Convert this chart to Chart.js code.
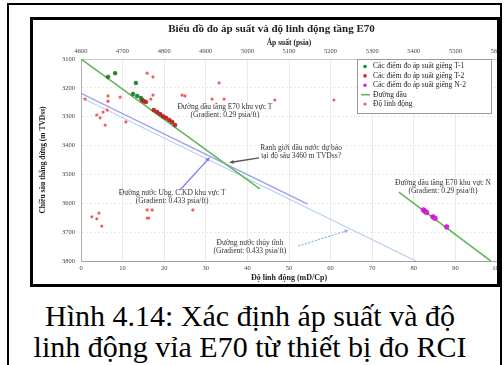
<!DOCTYPE html>
<html lang="vi">
<head>
<meta charset="utf-8">
<script src="https://cdn.jsdelivr.net/npm/chart.js@4.4.1/dist/chart.umd.min.js"></script>
<style>
  html, body { margin: 0; padding: 0; background: #fff; width: 504px; height: 365px; overflow: hidden; }
  #page { position: absolute; left: 7px; top: 3px; width: 495px; height: 390px; border: 2px solid #000; box-sizing: border-box; }
  #frame { position: absolute; left: 30px; top: 17px; width: 470px; height: 270px; border: 3px solid #000; box-sizing: border-box; overflow: hidden; background: #fff; }
  #frame canvas { position: absolute; left: 0; top: 0; filter: blur(0.45px); }
  .cap { position: absolute; left: 0; width: 500px; text-align: center; font-family: "Liberation Serif", "Times New Roman", serif; font-size: 30px; line-height: 31px; color: #000; white-space: nowrap; }
</style>
</head>
<body>
<div id="page"></div>
<div id="frame"><canvas id="chart" width="470" height="264"></canvas></div>
<div class="cap" style="top:300px">Hình 4.14: Xác định áp suất và độ</div>
<div class="cap" style="top:331px">linh động vỉa E70 từ thiết bị đo RCI</div>
<script>
// Pressure readings (psia) against true vertical depth (m TVDss)
const t1Pressure = [4665, 4682, 4732, 4725, 4735, 4744];
const t1Depth    = [3162, 3149, 3183, 3221, 3228, 3235];

const t2Pressure = [4747, 4751, 4756, 4775, 4783, 4790, 4797, 4804, 4812, 4819, 4826];
const t2Depth    = [3242, 3246, 3249, 3277, 3284, 3291, 3298, 3304, 3311, 3318, 3329];

const n2Pressure = [5423, 5427, 5431, 5446, 5451, 5479];
const n2Depth    = [3623, 3628, 3632, 3647, 3652, 3682];

// Mobility (mD/Cp) against depth
const mobility      = [15.9, 17.3, 1.0, 6.5, 6.5, 9.4, 17.3, 16.8, 3.8, 4.6, 5.3, 6.3, 5.8, 10.8, 24.3, 25.0, 31.5, 34.4, 33.2, 46.6, 60.8,
                       2.6, 3.8, 4.3, 5.0, 15.9, 17.1, 15.9, 16.3, 26.9];
const mobilityDepth = [3149, 3162, 3239, 3228, 3246, 3232, 3225, 3239, 3294, 3304, 3284, 3277, 3329, 3318, 3225, 3228, 3239, 3239, 3183, 3242, 3242,
                       3647, 3654, 3634, 3679, 3623, 3623, 3651, 3651, 3623];

// Gradient lines: end points (pressure, depth)
const oilLineT   = { pressure: [4600, 5030], depth: [3100, 3550] };
const waterLineT = { pressure: [4600, 5145], depth: [3219, 3603] };
const hydroLine  = { pressure: [4600, 5405], depth: [3233, 3800] };
const oilLineN   = { pressure: [5364, 5585], depth: [3561, 3800] };

// Axis ranges and tick steps
const pressureTicks = { min: 4600, max: 5600, step: 100 };
const mobilityTicks = { min: 0, max: 100, step: 10 };
const depthTicks    = { min: 3100, max: 3800, step: 100 };

// Text notes placed at (pressure, depth)
const notes = [
  { p: 4946, d: 3282, lines: ['Đường dầu tầng E70 khu vực T', '(Gradient: 0.29 psia/ft)'] },
  { p: 5129, d: 3421, lines: ['Ranh giới dầu nước dự báo', 'tại độ sâu 3460 m TVDss?'] },
  { p: 4819, d: 3580, lines: ['Đường nước Ubg. C.KD khu vực T', '(Gradient: 0.433 psia/ft)'] },
  { p: 5006, d: 3753, lines: ['Đường nước thủy tĩnh', '(Gradient: 0.433 psia/ft)'] },
  { p: 5470, d: 3542, lines: ['Đường dầu tầng E70 khu vực N', '(Gradient: 0.29 psia/ft)'] }
];
const arrows = [
  { from: [5028, 3443], to: [4956, 3459], color: '#555555', dash: [] },
  { from: [4838, 3554], to: [4910, 3440], color: '#7a7af0', dash: [] },
  { from: [5122, 3748], to: [5244, 3693], color: '#8fb4ee', dash: [2, 1.5] }
];

const SERIF = '"Liberation Serif", "Times New Roman", serif';
const pairs = (xs, ys) => xs.map((x, i) => ({ x: x, y: ys[i] }));

const datasets = [
  { label: 'Các điểm đo áp suất giếng T-1', data: pairs(t1Pressure, t1Depth), xAxisID: 'xP',
    backgroundColor: '#1d8a2a', borderColor: '#145f1d', pointRadius: 1.9, borderWidth: 0.5, order: 0, inLegend: true },
  { label: 'Các điểm đo áp suất giếng T-2', data: pairs(t2Pressure, t2Depth), xAxisID: 'xP',
    backgroundColor: '#d42525', borderColor: '#8a1010', pointRadius: 2, borderWidth: 0.5, order: 0, inLegend: true },
  { label: 'Các điểm đo áp suất giếng N-2', data: pairs(n2Pressure, n2Depth), xAxisID: 'xP',
    backgroundColor: '#e020e0', borderColor: '#b000b0', pointRadius: 2.4, borderWidth: 0.5, order: 0, inLegend: true },
  { label: 'Đường dầu', data: pairs(oilLineT.pressure, oilLineT.depth), xAxisID: 'xP', showLine: true,
    borderColor: '#62b85a', borderWidth: 1.6, pointRadius: 0, order: 1, inLegend: true },
  { label: 'Độ linh động', data: pairs(mobility, mobilityDepth), xAxisID: 'xM',
    backgroundColor: '#f0605a', borderColor: '#f0605a', pointRadius: 1.6, borderWidth: 0, order: 0, inLegend: true },
  { label: 'Đường dầu N', data: pairs(oilLineN.pressure, oilLineN.depth), xAxisID: 'xP', showLine: true,
    borderColor: '#62b85a', borderWidth: 1.6, pointRadius: 0, order: 1 },
  { label: 'Đường nước T', data: pairs(waterLineT.pressure, waterLineT.depth), xAxisID: 'xP', showLine: true,
    borderColor: '#9c9cf2', borderWidth: 1.4, pointRadius: 0, order: 2 },
  { label: 'Đường nước thủy tĩnh', data: pairs(hydroLine.pressure, hydroLine.depth), xAxisID: 'xP', showLine: true,
    borderColor: '#b3cdf2', borderWidth: 1.1, pointRadius: 0, order: 2 }
];

// Notes and arrows drawn in data space
const notesPlugin = {
  id: 'notes',
  afterDatasetsDraw(chart) {
    const { ctx, scales } = chart;
    const X = v => scales.xP.getPixelForValue(v);
    const Y = v => scales.y.getPixelForValue(v);
    ctx.save();
    arrows.forEach(a => {
      const x1 = X(a.from[0]), y1 = Y(a.from[1]), x2 = X(a.to[0]), y2 = Y(a.to[1]);
      const ang = Math.atan2(y2 - y1, x2 - x1), h = 5;
      ctx.strokeStyle = a.color; ctx.fillStyle = a.color; ctx.lineWidth = 1.3;
      ctx.setLineDash(a.dash);
      ctx.beginPath(); ctx.moveTo(x1, y1);
      ctx.lineTo(x2 - Math.cos(ang) * h * 0.8, y2 - Math.sin(ang) * h * 0.8); ctx.stroke();
      ctx.setLineDash([]);
      ctx.beginPath(); ctx.moveTo(x2, y2);
      ctx.lineTo(x2 - h * Math.cos(ang - 0.4), y2 - h * Math.sin(ang - 0.4));
      ctx.lineTo(x2 - h * Math.cos(ang + 0.4), y2 - h * Math.sin(ang + 0.4));
      ctx.closePath(); ctx.fill();
    });
    ctx.fillStyle = '#333';
    ctx.font = '7.5px ' + SERIF;
    ctx.textAlign = 'center'; ctx.textBaseline = 'middle';
    notes.forEach(n => {
      const cx = X(n.p), cy = Y(n.d);
      n.lines.forEach((t, i) => ctx.fillText(t, cx, cy + (i - (n.lines.length - 1) / 2) * 8));
    });
    ctx.restore();
  }
};

// Boxed legend in the upper right of the plot
const boxLegend = {
  id: 'boxLegend',
  afterDraw(chart) {
    const { ctx, chartArea } = chart;
    const items = chart.data.datasets.filter(d => d.inLegend);
    const left = chartArea.left + 276, top = chartArea.top, w = 134, rowH = 9.4;
    const h = items.length * rowH + 7;
    ctx.save();
    ctx.fillStyle = '#fff'; ctx.fillRect(left, top, w, h);
    ctx.strokeStyle = '#9a9a9a'; ctx.lineWidth = 1;
    ctx.strokeRect(left + 0.5, top + 0.5, w, h);
    ctx.font = '7.5px ' + SERIF; ctx.textBaseline = 'middle'; ctx.textAlign = 'left';
    items.forEach((d, i) => {
      const y = top + 7.5 + i * rowH;
      if (d.showLine) {
        ctx.strokeStyle = d.borderColor; ctx.lineWidth = d.borderWidth;
        ctx.beginPath(); ctx.moveTo(left + 4, y); ctx.lineTo(left + 13, y); ctx.stroke();
      } else {
        ctx.fillStyle = d.backgroundColor;
        ctx.beginPath(); ctx.arc(left + 8, y, Math.min(d.pointRadius, 1.8), 0, Math.PI * 2); ctx.fill();
      }
      ctx.fillStyle = '#222';
      ctx.fillText(d.label, left + 16, y);
    });
    ctx.restore();
  }
};

const tickFont = { family: SERIF, size: 6.5 };
const numLabel = v => String(v);

new Chart(document.getElementById('chart'), {
  type: 'scatter',
  data: { datasets: datasets },
  options: {
    responsive: false,
    animation: false,
    layout: { padding: { left: 13, right: 6, top: 0, bottom: 0 } },
    plugins: {
      legend: { display: false },
      tooltip: { enabled: false },
      title: { display: true, text: 'Biểu đồ đo áp suất và độ linh động tầng E70', color: '#222',
               font: { family: SERIF, size: 11, weight: 'bold' }, padding: { top: 3, bottom: 2 } }
    },
    scales: {
      xP: {
        type: 'linear', position: 'top', min: pressureTicks.min, max: pressureTicks.max,
        ticks: { stepSize: pressureTicks.step, font: tickFont, color: '#444', padding: 3.5, maxRotation: 0, autoSkip: false, callback: numLabel },
        grid: { display: false, drawTicks: false },
        border: { display: true, color: '#c8c8c8', dash: [2, 2] },
        title: { display: true, text: 'Áp suất (psia)', color: '#222', font: { family: SERIF, size: 7.5, weight: 'bold' }, padding: { top: 0.3, bottom: 0 } },
        afterFit(s) { s.height = 20.8; s.paddingLeft = 0; s.paddingRight = 0; }
      },
      xM: {
        type: 'linear', position: 'bottom', min: mobilityTicks.min, max: mobilityTicks.max,
        ticks: { stepSize: mobilityTicks.step, font: tickFont, color: '#444', padding: 3.5, maxRotation: 0, autoSkip: false, callback: numLabel },
        grid: { color: '#e4e4e4', lineWidth: 0.8, drawTicks: false },
        border: { display: true, color: '#a0a0a0' },
        title: { display: true, text: 'Độ linh động (mD/Cp)', color: '#222', font: { family: SERIF, size: 8, weight: 'bold' }, padding: { top: 0, bottom: 1.2 } },
        afterFit(s) { s.height = 23; s.paddingLeft = 0; s.paddingRight = 0; }
      },
      y: {
        type: 'linear', reverse: true, min: depthTicks.min, max: depthTicks.max,
        ticks: { stepSize: depthTicks.step, font: tickFont, color: '#444', padding: 6, callback: numLabel },
        grid: { color: '#e4e4e4', lineWidth: 0.8, drawTicks: false },
        border: { display: true, color: '#b0b0b0', dash: [2, 2] },
        title: { display: true, text: 'Chiều sâu thẳng đứng (m TVDss)', color: '#222', font: { family: SERIF, size: 7.5, weight: 'bold' }, padding: { top: -7, bottom: 0 } },
        afterFit(s) { s.width = 35; s.paddingTop = 0; s.paddingBottom = 0; }
      }
    }
  },
  plugins: [notesPlugin, boxLegend]
});
</script>
</body>
</html>
